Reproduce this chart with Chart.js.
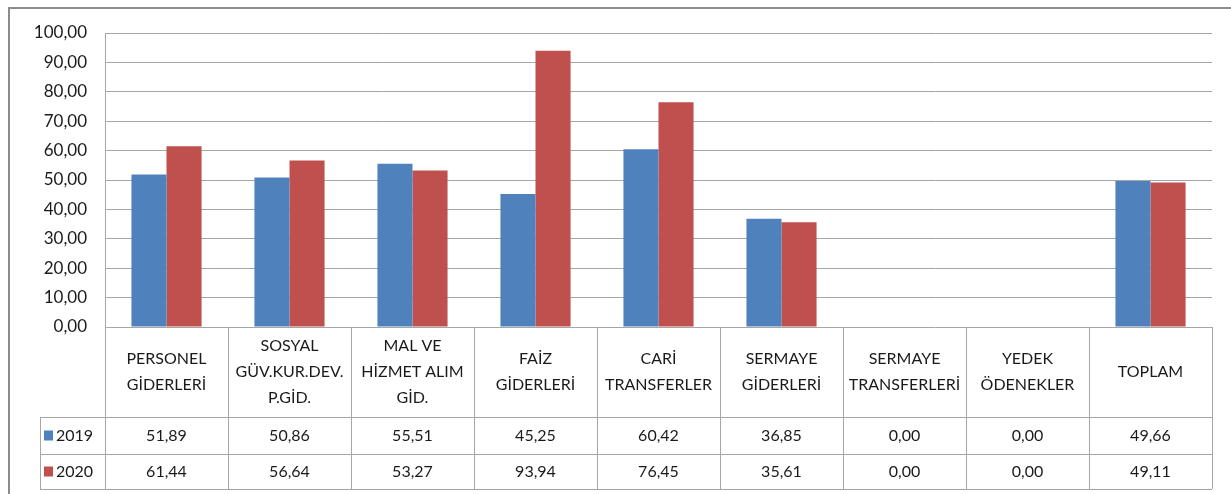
<!DOCTYPE html>
<html>
<head>
<meta charset="utf-8">
<script src="https://cdn.jsdelivr.net/npm/chart.js@4/dist/chart.umd.min.js"></script>
<style>
  html, body { margin: 0; padding: 0; background: #fff; }
  #wrap { width: 1231px; height: 494px; }
</style>
</head>
<body>
<div id="wrap"><canvas id="myChart" width="1231" height="494"></canvas></div>
<script>
// categories (multi-line, as in the table header)
const categories = [
  ['PERSONEL', 'GİDERLERİ'],
  ['SOSYAL', 'GÜV.KUR.DEV.', 'P.GİD.'],
  ['MAL VE', 'HİZMET ALIM', 'GİD.'],
  ['FAİZ', 'GİDERLERİ'],
  ['CARİ', 'TRANSFERLER'],
  ['SERMAYE', 'GİDERLERİ'],
  ['SERMAYE', 'TRANSFERLERİ'],
  ['YEDEK', 'ÖDENEKLER'],
  ['TOPLAM']
];
const values2019 = [51.89, 50.86, 55.51, 45.25, 60.42, 36.85, 0.00, 0.00, 49.66];
const values2020 = [61.44, 56.64, 53.27, 93.94, 76.45, 35.61, 0.00, 0.00, 49.11];
const seriesNames = ['2019', '2020'];
const yTicks = [0, 10, 20, 30, 40, 50, 60, 70, 80, 90, 100];

const FONT = 'Lato, "DejaVu Sans", sans-serif';
const TXT = '#1a1a1a';
const LINE = '#a6a6a6';
const blue = '#4F81BD';
const red = '#C0504D';

const fmt = v => v.toFixed(2).replace('.', ',');

// data table under the plot, lined up with the x scale
const dataTable = {
  id: 'dataTable',
  afterDraw(chart) {
    const ctx = chart.ctx;
    const x = chart.scales.x;
    const area = chart.chartArea;
    const n = categories.length;
    const step = (area.right - area.left) / n;
    const top = area.bottom;
    const row1 = top + 90;
    const row2 = row1 + 37;
    const row3 = row2 + 35;
    const legLeft = 40;

    ctx.save();
    // outer frame (top + left)
    ctx.strokeStyle = '#8c8c8c';
    ctx.lineWidth = 2;
    ctx.beginPath();
    ctx.moveTo(9, 494); ctx.lineTo(9, 8); ctx.lineTo(1231, 8);
    ctx.stroke();

    ctx.strokeStyle = LINE;
    ctx.lineWidth = 1;
    ctx.beginPath();
    [row1, row2, row3].forEach(y => {
      ctx.moveTo(legLeft, Math.round(y) + 0.5);
      ctx.lineTo(area.right, Math.round(y) + 0.5);
    });
    for (let i = 0; i <= n; i++) {
      const px = Math.round(area.left + i * step) + 0.5;
      ctx.moveTo(px, top);
      ctx.lineTo(px, row3);
    }
    ctx.moveTo(legLeft + 0.5, row1);
    ctx.lineTo(legLeft + 0.5, row3);
    ctx.stroke();

    ctx.fillStyle = TXT;
    ctx.font = '16px ' + FONT;
    ctx.textAlign = 'center';
    ctx.textBaseline = 'middle';
    const lh = 26;
    categories.forEach((lab, i) => {
      const cx = x.getPixelForValue(i);
      const mid = (top + row1) / 2;
      const y0 = mid - (lab.length - 1) * lh / 2;
      lab.forEach((t, k) => ctx.fillText(t, cx, y0 + k * lh));
      ctx.fillText(fmt(values2019[i]), cx, (row1 + row2) / 2);
      ctx.fillText(fmt(values2020[i]), cx, (row2 + row3) / 2);
    });

    // legend keys in the first column
    [[blue, (row1 + row2) / 2, seriesNames[0]], [red, (row2 + row3) / 2, seriesNames[1]]].forEach(([c, cy, name]) => {
      ctx.fillStyle = c;
      ctx.fillRect(44, cy - 5, 9, 10);
      ctx.fillStyle = TXT;
      ctx.textAlign = 'left';
      ctx.fillText(name, 56, cy);
    });
    ctx.restore();
  }
};

let myChart = document.getElementById('myChart').getContext('2d');

let barChart = new Chart(myChart, {
  type: 'bar',
  data: {
    labels: categories,
    datasets: [
      { label: seriesNames[0], data: values2019, backgroundColor: blue },
      { label: seriesNames[1], data: values2020, backgroundColor: red }
    ]
  },
  options: {
    responsive: false,
    animation: false,
    categoryPercentage: 0.57,
    barPercentage: 1.0,
    layout: { padding: { left: 0, right: 19, top: 33, bottom: 167 } },
    plugins: { legend: { display: false }, tooltip: { enabled: false } },
    scales: {
      x: { display: false },
      y: {
        min: 0,
        max: 100,
        afterFit(scale) { scale.width = 105; },
        afterBuildTicks(scale) { scale.ticks = yTicks.map(v => ({ value: v })); },
        grid: { color: LINE, drawTicks: false },
        border: { color: LINE },
        ticks: {
          padding: 18,
          color: TXT,
          font: { family: FONT, size: 17 },
          callback: v => fmt(v)
        }
      }
    }
  },
  plugins: [dataTable]
});
</script>
</body>
</html>
